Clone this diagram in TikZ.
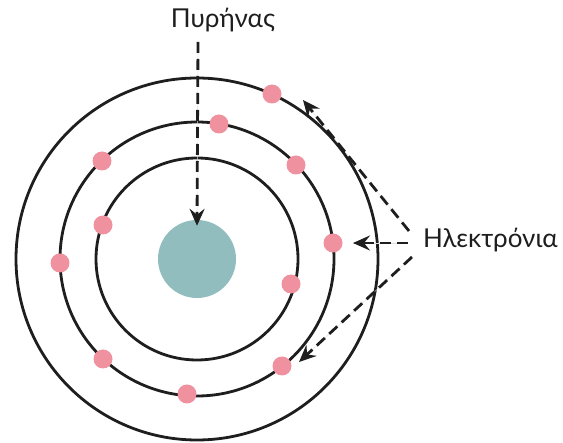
\documentclass[tikz,border=0pt]{standalone}
\usepackage{fontspec}
\setmainfont{Lato}
\usetikzlibrary{arrows.meta}
\definecolor{nucleuscol}{RGB}{146,189,190}
\definecolor{electroncol}{RGB}{240,145,160}
\definecolor{inkcol}{RGB}{30,30,30}
\tikzset{
  orbit/.style={draw=inkcol, line width=2.8pt},
  electron/.style={circle, fill=electroncol, minimum size=19pt, inner sep=0pt},
  nucleus/.style={circle, fill=nucleuscol, minimum size=78pt, inner sep=0pt},
  label/.style={inner sep=0pt, text=inkcol, font=\fontsize{26}{30}\selectfont},
  pointer/.style={draw=inkcol, line width=2.8pt, dash pattern=on 11pt off 6pt,
    -{Stealth[length=17pt, width=15pt, inset=6pt]},
    preaction={draw=gray!25, line width=0.4pt, solid, -}}
}
\begin{document}
\begin{tikzpicture}[x=1pt, y=-1pt]
\useasboundingbox (0,0) rectangle (563,443);
\coordinate (c) at (197,259);
% orbits
\draw[orbit] (c) circle[radius=181];
\draw[orbit] (c) circle[radius=137];
\draw[orbit] (c) circle[radius=101];
% nucleus
\node[nucleus] (nuc) at (c) {};
% electrons
\node[electron] (e1) at (272,94) {};
\node[electron] (e2) at (219,124) {};
\node[electron] (e3) at (102,161) {};
\node[electron] (e4) at (296,165) {};
\node[electron] (e5) at (103,225) {};
\node[electron] (e6) at (333,243) {};
\node[electron] (e7) at (60,263) {};
\node[electron] (e8) at (291,284) {};
\node[electron] (e9) at (103,359) {};
\node[electron] (e10) at (282,366) {};
\node[electron] (e11) at (187,394) {};
% labels
\node[label, anchor=base] (pyr) at (223,28) {Πυρήνας};
\node[label, anchor=base west] (ele) at (423,248) {Ηλεκτρόνια};
% pointer ends
\coordinate (ps) at (198,42);
\coordinate (s1) at (409,231);
\coordinate (t1) at (303,100);
\coordinate (s2) at (408,243);
\coordinate (t2) at (353,243);
\coordinate (s3) at (412,257);
\coordinate (t3) at (299,362);
% pointers
\draw[pointer] (ps) -- ([yshift=-6pt]nuc.north);
\draw[pointer] (s1) -- (t1);
\draw[pointer] (s2) -- (t2);
\draw[pointer] (s3) -- (t3);
\end{tikzpicture}
\end{document}
